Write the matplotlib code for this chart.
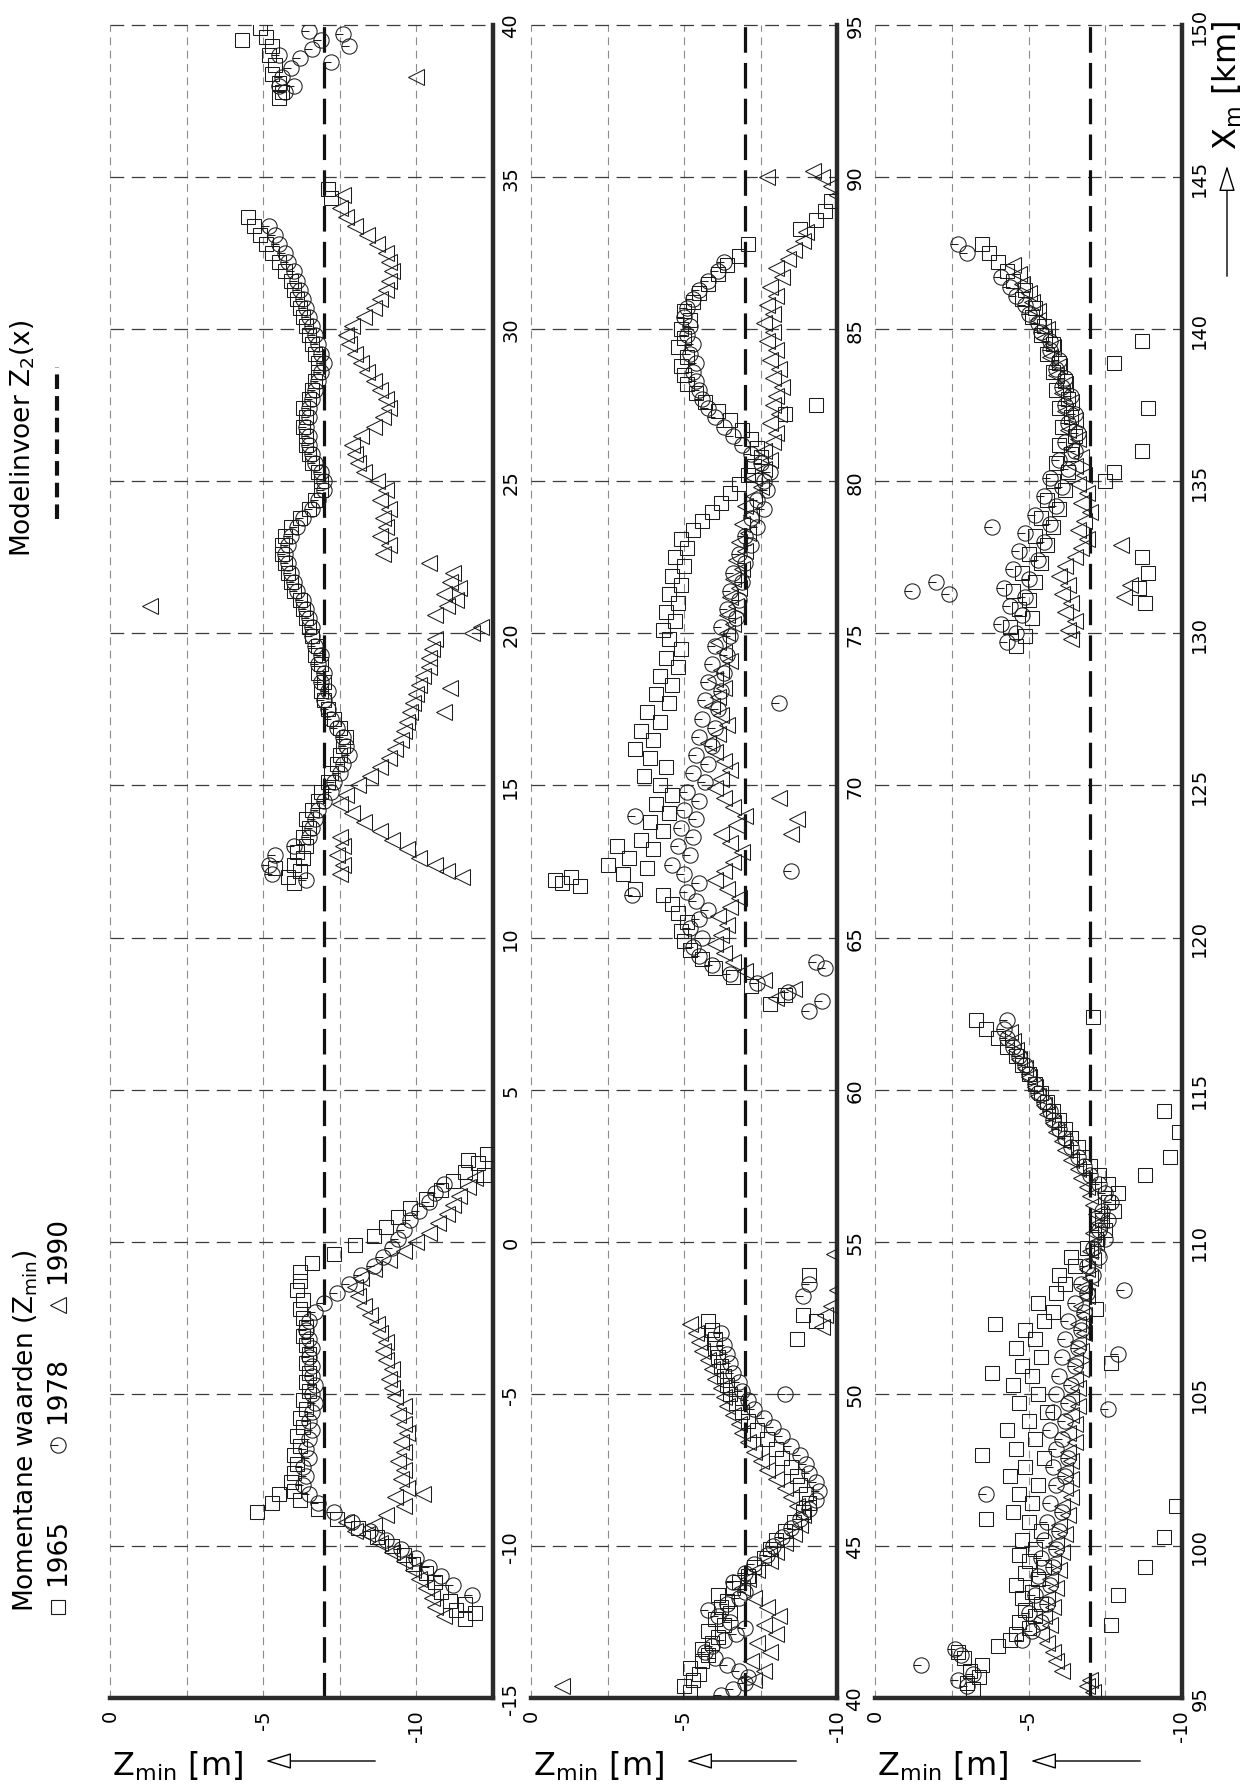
import matplotlib
matplotlib.use("Agg")
import matplotlib.pyplot as plt
from matplotlib.path import Path
from matplotlib.lines import Line2D
from matplotlib.patches import FancyArrowPatch

plt.rcParams["font.family"] = ["DejaVu Sans"]
plt.rcParams["axes.unicode_minus"] = False
plt.rcParams["mathtext.default"] = "regular"

# ---- data: (km, Zmin) pairs ----
p1_1965 = [(-12.4,-11.6),(-12.1,-11.3),(-11.8,-11.1),(-11.5,-10.8),(-11.2,-10.6),(-10.9,-10.3),(-10.6,-9.9),(-10.3,-9.6),(-10.0,-9.2),(-9.7,-8.7),(-9.4,-8.1),(-9.1,-7.4),(-8.8,-6.8),(-8.5,-6.2),(-8.2,-6.0),(-7.9,-5.9),(-7.6,-6.0),(-7.3,-6.1),(-7.0,-6.0),(-6.7,-6.2),(-6.4,-6.1),(-6.1,-6.3),(-5.8,-6.2),(-5.5,-6.4),(-5.2,-6.3),(-4.9,-6.5),(-4.6,-6.4),(-4.3,-6.5),(-4.0,-6.4),(-3.7,-6.5),(-3.4,-6.4),(-3.1,-6.3),(-2.8,-6.4),(-2.5,-6.3),(-2.2,-6.2),(-1.9,-6.3),(-1.6,-6.1),(-1.3,-6.2),(-1.0,-6.2),(-0.7,-6.6),(-0.4,-7.3),(-0.1,-8.0),(0.2,-8.6),(0.5,-9.0),(0.8,-9.4),(1.1,-9.8),(1.4,-10.3),(1.7,-10.8),(2.0,-11.2),(2.3,-11.6),(2.6,-12.0),(2.9,-12.3),
           (-8.9,-4.8),(-8.6,-5.3),(-8.3,-5.5),(2.7,-11.7),(2.2,-12.2),(-12.2,-11.9),(-11.9,-11.6),
           (11.8,-6.0),(12.0,-5.8),(12.2,-6.2),(12.3,-5.4),(12.4,-6.0),(12.6,-6.3),(12.8,-6.1),(13.0,-6.4),(13.3,-6.3),(13.6,-6.5),(13.9,-6.4),(14.2,-6.6),(14.5,-6.8),(14.8,-6.9),(15.1,-7.1),(15.4,-7.2),(15.7,-7.4),(16.0,-7.5),(16.3,-7.6),(16.6,-7.7),(16.9,-7.5),(17.2,-7.3),(17.5,-7.1),(17.8,-7.0),(18.1,-6.9),(18.4,-7.0),(18.7,-6.8),(19.0,-6.9),(19.3,-6.7),(19.6,-6.8),(19.9,-6.6),(20.2,-6.5),(20.5,-6.4),(20.8,-6.3),(21.1,-6.2),(21.4,-6.0),(21.7,-5.9),(22.0,-5.8),(22.3,-5.7),(22.6,-5.6),(22.9,-5.6),(23.2,-5.7),(23.5,-5.9),(23.8,-6.2),(24.1,-6.5),(24.4,-6.7),(24.7,-6.9),(25.0,-6.9),(25.3,-6.8),(25.6,-6.6),(25.9,-6.5),(26.2,-6.4),(26.5,-6.4),(26.8,-6.3),(27.1,-6.4),(27.4,-6.3),(27.7,-6.5),(28.0,-6.6),(28.3,-6.7),(28.6,-6.8),(28.9,-6.8),(29.2,-6.7),(29.5,-6.6),(29.8,-6.5),(30.1,-6.4),(30.4,-6.3),(30.7,-6.2),(31.0,-6.1),(31.3,-6.0),(31.6,-5.9),(31.9,-5.7),(32.2,-5.5),(32.5,-5.3),(32.8,-5.1),(33.1,-4.9),(33.4,-4.7),(33.7,-4.5),
           (34.3,-7.2),(34.6,-7.1),
           (37.6,-5.5),(37.8,-5.6),(38.1,-5.5),(38.4,-5.3),(38.7,-5.4),(39.0,-5.2),(39.3,-5.3),(39.5,-4.3),(39.6,-5.1),(39.9,-4.9)]

p1_1978 = [(-11.6,-11.8),(-11.3,-11.2),(-11.0,-10.8),(-10.7,-10.4),(-10.4,-10.0),(-10.1,-9.5),(-9.8,-9.0),(-9.5,-8.5),(-9.2,-7.9),(-8.9,-7.3),(-8.6,-6.8),(-8.3,-6.5),(-8.0,-6.3),(-7.7,-6.4),(-7.4,-6.3),(-7.1,-6.5),(-6.8,-6.4),(-6.5,-6.5),(-6.2,-6.6),(-5.9,-6.5),(-5.6,-6.6),(-5.3,-6.7),(-5.0,-6.6),(-4.7,-6.7),(-4.4,-6.6),(-4.1,-6.6),(-3.8,-6.5),(-3.5,-6.6),(-3.2,-6.5),(-2.9,-6.4),(-2.6,-6.5),(-2.3,-6.7),(-2.0,-7.0),(-1.7,-7.4),(-1.4,-7.8),(-1.1,-8.2),(-0.8,-8.6),(-0.5,-8.9),(-0.2,-9.2),(0.1,-9.4),(0.4,-9.6),(0.7,-9.8),(1.0,-10.1),(1.3,-10.4),(1.6,-10.6),(1.9,-10.9),
           (11.9,-6.4),(12.1,-5.3),(12.4,-5.2),(12.7,-5.4),(13.0,-6.0),(13.3,-6.5),(13.6,-6.6),(13.9,-6.7),(14.2,-6.8),(14.5,-7.0),(14.8,-7.2),(15.1,-7.3),(15.4,-7.5),(15.7,-7.6),(16.0,-7.8),(16.3,-7.7),(16.6,-7.6),(16.9,-7.4),(17.2,-7.2),(17.5,-7.1),(17.8,-7.0),(18.1,-7.1),(18.4,-6.9),(18.7,-7.0),(19.0,-6.8),(19.3,-6.9),(19.6,-6.7),(19.9,-6.6),(20.2,-6.6),(20.5,-6.5),(20.8,-6.4),(21.1,-6.3),(21.4,-6.1),(21.7,-6.0),(22.0,-5.9),(22.3,-5.8),(22.6,-5.7),(22.9,-5.8),(23.2,-5.9),(23.5,-6.1),(23.8,-6.3),(24.1,-6.6),(24.4,-6.8),(24.7,-7.0),(25.0,-7.0),(25.3,-6.9),(25.6,-6.7),(25.9,-6.6),(26.2,-6.5),(26.5,-6.5),(26.8,-6.4),(27.1,-6.5),(27.4,-6.5),(27.7,-6.6),(28.0,-6.7),(28.3,-6.8),(28.6,-6.9),(28.9,-7.0),(29.2,-6.9),(29.5,-6.8),(29.8,-6.7),(30.1,-6.6),(30.4,-6.5),(30.7,-6.4),(31.0,-6.3),(31.3,-6.2),(31.6,-6.1),(31.9,-6.0),(32.2,-5.8),(32.5,-5.7),(32.8,-5.5),(33.1,-5.4),(33.4,-5.2),
           (37.8,-5.7),(38.0,-5.5),(38.0,-6.0),(38.3,-5.6),(38.6,-5.9),(38.8,-7.2),(38.9,-6.2),(39.2,-6.6),(39.3,-7.8),(39.5,-6.9),(39.7,-7.6),(39.8,-6.5),(39.0,-5.5)]

p1_1990 = [(-12.3,-10.9),(-12.0,-10.6),(-11.7,-10.5),(-11.4,-10.3),(-11.1,-10.1),(-10.8,-9.9),(-10.5,-9.6),(-10.2,-9.2),(-9.9,-8.8),(-9.6,-8.4),(-9.3,-8.6),(-9.0,-9.0),(-8.7,-9.6),(-8.4,-9.3),(-8.1,-9.7),(-7.8,-9.5),(-7.5,-9.6),(-7.2,-9.4),(-6.9,-9.6),(-6.6,-9.5),(-6.3,-9.7),(-6.0,-9.6),(-5.7,-9.4),(-5.4,-9.6),(-5.1,-9.3),(-4.8,-9.2),(-4.5,-9.1),(-4.2,-9.2),(-3.9,-9.0),(-3.6,-8.9),(-3.3,-9.0),(-3.0,-8.8),(-2.7,-8.7),(-2.4,-8.5),(-2.1,-8.3),(-1.8,-8.1),(-1.5,-8.0),(-1.2,-8.2),(-0.9,-8.6),(-0.6,-9.1),(-0.3,-9.6),(0.0,-10.0),(0.3,-10.4),(0.6,-10.7),(0.9,-11.0),(1.2,-11.2),(1.5,-11.4),(1.8,-11.7),(2.1,-11.9),
           (-9.2,-7.7),(-9.5,-8.0),(-8.3,-10.2),
           (12.0,-11.5),(12.2,-11.0),(12.4,-10.6),(12.6,-10.1),(12.9,-9.7),(13.2,-9.2),(13.5,-8.8),(13.8,-8.3),(14.1,-7.9),(14.4,-7.5),
           (12.1,-7.5),(12.4,-7.6),(12.7,-7.4),(13.0,-7.6),(13.3,-7.5),
           (14.7,-7.7),(15.0,-8.1),(15.3,-8.5),(15.6,-8.8),(15.9,-9.1),(16.2,-9.3),(16.5,-9.5),(16.8,-9.6),(17.1,-9.7),(17.4,-9.8),(17.7,-9.9),(18.0,-10.0),(18.3,-10.1),(18.6,-10.2),(18.9,-10.4),(19.2,-10.4),(19.5,-10.5),(19.8,-10.6),
           (17.4,-10.9),(18.2,-11.1),(20.0,-11.8),(20.2,-12.1),(20.6,-10.6),(20.9,-11.0),(21.1,-11.3),(21.3,-10.9),(21.5,-11.4),(21.7,-11.1),(22.0,-11.2),(22.3,-10.4),(20.9,-1.3),
           (22.6,-8.9),(22.9,-9.1),(23.2,-8.8),(23.5,-9.0),(23.8,-8.9),(24.1,-9.1),(24.4,-8.8),(24.7,-9.0),(25.0,-8.7),
           (25.3,-8.3),(25.6,-8.1),(25.9,-8.0),(26.2,-7.9),(26.5,-8.2),(26.8,-8.6),(27.1,-8.9),(27.4,-9.1),(27.7,-9.0),(28.0,-8.8),(28.3,-8.6),(28.6,-8.4),(28.9,-8.2),(29.2,-8.0),(29.5,-7.8),(29.8,-7.7),(30.1,-7.9),(30.4,-8.3),(30.7,-8.6),(31.0,-8.8),(31.3,-9.0),(31.6,-9.1),(31.9,-9.2),(32.2,-9.1),(32.5,-9.0),(32.8,-8.7),(33.1,-8.4),(33.4,-8.0),(33.7,-7.7),(34.0,-7.5),(34.4,-7.6),
           (38.3,-10.0)]

p2_1965 = [(40.2,-5.2),(40.4,-5.0),(40.6,-5.3),(40.8,-5.5),(41.0,-5.2),(41.2,-5.6),(41.4,-5.8),(41.6,-5.6),(41.8,-5.9),(42.0,-6.1),(42.2,-5.8),(42.4,-6.3),(42.6,-6.0),(42.8,-6.5),(43.0,-6.2),(43.2,-6.4),(43.4,-6.1),(43.6,-6.6),(43.8,-6.8),(44.0,-7.1),(44.3,-7.3),(44.6,-7.6),(44.9,-7.8),(45.2,-8.0),(45.5,-8.3),(45.8,-8.6),(46.1,-8.9),(46.4,-9.1),(46.7,-9.0),(47.0,-8.8),(47.3,-8.7),(47.6,-8.5),(47.9,-8.2),(48.2,-8.0),(48.5,-7.7),(48.8,-7.4),(49.1,-7.1),(49.4,-6.9),(49.7,-6.7),(50.0,-6.5),(50.3,-6.4),(50.6,-6.3),(50.9,-6.2),(51.2,-6.1),(51.5,-6.0),(51.8,-6.0),(52.1,-5.9),(52.4,-5.8),
           (51.8,-8.7),(52.4,-9.3),(52.6,-8.9),(53.9,-9.1),
           (62.8,-7.8),(63.1,-8.3),(63.4,-7.2),(63.7,-6.6),(64.0,-6.0),(64.3,-5.6),(64.6,-5.2),(64.9,-5.0),(65.2,-4.9),(65.5,-5.1),(65.8,-4.8),(66.1,-4.6),(66.4,-4.3),(66.6,-3.4),(66.8,-1.0),(66.9,-0.8),(67.0,-1.3),(67.1,-3.0),(67.3,-3.8),(67.6,-3.2),(67.9,-4.0),(68.2,-3.6),(68.5,-4.3),(68.8,-3.9),(69.1,-4.5),(69.4,-4.1),(69.7,-4.6),(70.0,-4.2),(70.3,-3.7),(70.6,-4.4),(70.9,-3.9),(71.2,-3.4),(71.5,-4.0),(71.8,-3.6),(72.1,-4.2),(72.4,-3.8),(72.7,-4.5),(73.0,-4.1),(73.3,-4.6),(73.6,-4.2),(73.9,-4.8),(74.2,-4.4),(74.5,-4.9),(74.8,-4.5),(75.1,-4.3),(75.4,-4.7),(75.7,-4.4),(76.0,-4.8),(76.3,-4.5),(76.6,-4.9),(76.9,-4.6),(77.2,-5.0),(77.5,-4.7),(77.8,-5.1),(78.1,-4.9),(78.4,-5.3),(78.7,-5.6),(79.0,-5.9),(79.3,-6.2),(79.6,-6.5),(79.9,-6.8),(80.2,-7.1),(80.5,-7.3),(80.8,-7.5),(81.1,-7.4),(81.4,-7.2),(81.7,-6.9),(82.0,-6.5),(82.3,-6.1),(82.6,-5.7),(82.9,-5.4),(83.2,-5.1),(83.5,-5.0),(83.8,-4.9),(84.1,-5.1),(84.4,-4.8),(84.7,-5.0),(85.0,-4.9),(85.3,-5.2),(85.6,-5.0),(85.9,-5.3),(86.2,-5.5),(86.5,-5.8),(86.8,-6.1),(87.1,-6.4),(87.4,-6.8),
           (82.2,-8.3),(82.5,-9.3),(88.3,-8.8),(88.6,-9.3),(88.9,-9.6),(89.2,-9.8),(87.8,-7.1),(66.7,-1.6),(67.4,-2.5),(68.0,-2.8)]

p2_1978 = [(40.1,-6.2),(40.3,-6.6),(40.5,-7.0),(40.7,-7.1),(40.9,-6.8),(41.1,-6.4),(41.3,-6.0),(41.5,-5.7),(41.7,-5.9),(41.9,-6.3),(42.1,-6.7),(42.3,-7.0),(42.5,-6.5),(42.7,-6.1),(42.9,-5.8),(43.1,-6.4),(43.3,-6.8),(43.5,-7.0),(43.8,-6.6),(44.1,-7.0),(44.4,-7.3),(44.7,-7.7),(45.0,-7.9),(45.3,-8.2),(45.6,-8.5),(45.9,-8.8),(46.2,-9.1),(46.5,-9.3),(46.8,-9.4),(47.1,-9.3),(47.4,-9.1),(47.7,-9.0),(48.0,-8.8),(48.3,-8.5),(48.6,-8.2),(48.9,-7.9),(49.2,-7.6),(49.5,-7.3),(49.8,-7.1),(50.1,-6.9),(50.4,-6.8),(50.7,-6.6),(51.0,-6.5),(51.3,-6.4),(51.6,-6.3),(52.0,-6.2),
           (50.0,-8.3),(53.2,-8.9),(53.6,-9.1),
           (62.6,-9.1),(62.9,-9.5),(63.2,-8.4),(63.5,-7.4),(63.8,-6.5),(64.1,-5.9),(64.4,-5.5),(64.7,-5.3),(65.0,-5.6),(65.3,-5.2),(65.6,-5.5),(65.9,-5.8),(66.2,-5.4),(66.5,-5.1),(66.8,-5.5),(67.1,-5.0),(67.4,-4.6),(67.7,-5.2),(68.0,-4.8),(68.3,-5.3),(68.6,-4.9),(68.9,-5.4),(69.2,-5.0),(69.5,-5.5),(69.8,-5.1),(70.1,-5.7),(70.4,-5.3),(70.7,-5.8),(71.0,-5.4),(71.3,-5.9),(71.6,-5.5),(71.9,-6.0),(72.2,-5.6),(72.5,-6.1),(72.8,-5.7),(73.1,-6.2),(73.4,-5.8),(73.7,-6.3),(74.0,-5.9),(74.3,-6.4),(74.6,-6.0),(74.9,-6.5),(75.2,-6.2),(75.5,-6.7),(75.8,-6.4),(76.1,-6.8),(76.4,-6.5),(76.7,-6.9),(77.0,-6.6),(77.3,-7.0),(77.6,-6.8),(77.9,-7.2),(78.2,-7.0),(78.5,-7.4),(78.8,-7.2),(79.1,-7.6),(79.4,-7.4),(79.7,-7.7),(80.0,-7.6),(80.3,-7.8),(80.6,-7.5),(80.9,-7.2),(81.2,-6.9),(81.5,-6.6),(81.8,-6.3),(82.1,-6.0),(82.4,-5.8),(82.7,-5.6),(83.0,-5.5),(83.3,-5.4),(83.6,-5.3),(83.9,-5.4),(84.2,-5.2),(84.5,-5.3),(84.8,-5.1),(85.1,-5.2),(85.4,-5.0),(85.7,-5.1),(86.0,-5.3),(86.3,-5.5),(86.6,-5.8),(86.9,-6.1),(87.2,-6.3),
           (64.2,-9.3),(64.0,-9.6),(67.2,-8.5),(72.7,-8.1),(66.4,-3.3),(69.0,-3.4)]

p2_1990 = [(40.4,-1.0),(40.6,-7.3),(40.9,-7.6),(41.2,-7.2),(41.5,-7.8),(41.8,-7.4),(42.1,-8.0),(42.4,-7.6),(42.7,-8.1),(43.0,-7.7),(43.3,-7.3),(43.6,-6.9),(43.9,-7.1),(44.2,-7.4),(44.5,-7.8),(44.8,-8.0),(45.1,-8.3),(45.4,-8.6),(45.7,-8.8),(46.0,-8.9),(46.3,-8.7),(46.6,-8.5),(46.9,-8.3),(47.2,-8.0),(47.5,-7.7),(47.8,-7.5),(48.1,-7.3),(48.4,-7.1),(48.7,-6.9),(49.0,-6.8),(49.3,-6.6),(49.6,-6.4),(49.9,-6.3),(50.2,-6.2),(50.5,-6.0),(50.8,-5.9),(51.1,-5.8),(51.4,-5.6),(51.7,-5.5),(52.0,-5.4),(52.3,-5.2),
           (52.2,-9.5),(52.6,-9.6),(52.9,-9.8),(53.4,-10.0),(54.6,-9.9),
           (63.0,-8.0),(63.3,-8.6),(63.6,-7.6),(63.9,-7.0),(64.2,-6.6),(64.5,-6.3),(64.8,-6.0),(65.1,-6.2),(65.4,-6.4),(65.7,-6.1),(66.0,-6.5),(66.3,-6.8),(66.6,-6.4),(66.9,-6.0),(67.2,-6.3),(67.5,-6.6),(67.8,-6.9),(68.1,-6.5),(68.4,-6.2),(68.7,-6.7),(69.0,-7.0),(69.3,-6.6),(69.6,-6.3),(69.9,-6.0),(70.2,-6.2),(70.5,-6.5),(70.8,-6.3),(71.1,-6.0),(71.4,-5.8),(71.7,-6.1),(72.0,-6.4),(72.3,-6.2),(72.6,-5.9),(72.9,-6.1),(73.2,-6.3),(73.5,-6.0),(73.8,-6.2),(74.1,-6.5),(74.4,-6.3),(74.7,-6.1),(75.0,-6.4),(75.3,-6.6),(75.6,-6.4),(75.9,-6.7),(76.2,-6.5),(76.5,-6.8),(76.8,-6.6),(77.1,-6.9),(77.4,-6.7),(77.7,-7.0),(78.0,-6.8),(78.3,-7.1),(78.6,-6.9),(78.9,-7.2),(79.2,-7.0),(79.5,-7.3),(79.8,-7.5),(80.1,-7.3),(80.4,-7.6),(80.7,-7.8),(81.0,-7.6),(81.3,-7.9),(81.6,-8.0),(81.9,-7.8),(82.2,-8.1),(82.5,-7.9),(82.8,-8.0),(83.1,-8.2),(83.4,-7.9),(83.7,-8.1),(84.0,-7.8),(84.3,-8.0),(84.6,-7.7),(84.9,-7.9),(85.2,-7.6),(85.5,-7.9),(85.8,-7.7),(86.1,-8.0),(86.4,-7.8),(86.7,-8.2),(87.0,-8.0),(87.3,-8.4),(87.6,-8.6),(87.9,-8.9),(88.2,-9.0),
           (68.4,-8.5),(68.9,-8.7),(69.6,-8.1),(89.4,-10.0),(89.7,-9.8),(90.0,-9.5),(90.2,-9.2),(90.0,-7.7)]

p3_1965 = [(95.3,-3.2),(95.5,-3.0),(95.7,-3.4),(95.9,-3.1),(96.1,-3.5),(96.3,-2.9),(96.5,-2.7),(96.7,-4.0),(96.9,-4.4),(97.1,-4.6),(97.3,-5.0),(97.5,-4.7),(97.7,-5.2),(97.9,-4.9),(98.1,-5.4),(98.3,-4.8),(98.5,-5.1),(98.7,-4.6),(98.9,-5.3),(99.1,-4.9),(99.3,-5.5),(99.5,-5.0),(99.7,-4.7),(99.9,-5.2),(100.2,-4.8),(100.5,-5.4),(100.8,-5.0),(101.1,-4.5),(101.4,-5.1),(101.7,-4.7),(102.0,-5.3),(102.3,-4.4),(102.6,-4.9),(102.9,-5.5),(103.2,-4.6),(103.5,-5.2),(103.8,-4.3),(104.1,-5.0),(104.4,-5.6),(104.7,-4.7),(105.0,-5.3),(105.3,-4.5),(105.6,-5.1),(105.9,-4.8),(106.2,-5.4),(106.5,-4.6),(106.8,-5.2),(107.1,-4.9),(107.4,-5.5),(107.7,-5.8),(108.0,-5.3),(108.3,-5.9),(108.6,-6.2),(108.9,-6.0),(109.2,-6.5),(109.5,-6.4),(109.8,-6.9),(110.1,-7.2),(110.4,-7.5),(110.7,-7.4),(111.0,-7.8),(111.3,-7.6),(111.6,-7.9),(111.9,-7.6),(112.2,-7.3),(112.5,-7.0),(112.8,-6.8),(113.1,-6.6),(113.4,-6.4),(113.7,-6.2),(114.0,-6.0),(114.3,-5.8),(114.6,-5.6),(114.9,-5.4),(115.2,-5.2),(115.5,-5.0),(115.8,-4.8),(116.1,-4.6),(116.4,-4.3),(116.7,-4.0),(117.0,-3.6),(117.3,-3.3),
           (97.4,-7.7),(98.4,-7.9),(99.3,-8.8),(100.3,-9.4),(101.3,-9.8),(106.0,-7.7),(107.8,-7.2),(112.2,-8.8),(112.8,-9.6),(113.6,-9.9),(114.3,-9.4),(117.4,-7.1),
           (100.9,-3.6),(103.0,-3.5),(105.7,-3.8),(107.3,-3.9),
           (129.6,-4.6),(129.9,-4.9),(130.2,-4.4),(130.5,-5.1),(130.8,-4.7),(131.1,-5.0),(131.4,-4.5),(131.7,-5.2),(132.0,-4.8),(132.3,-5.4),(132.6,-5.0),(132.9,-5.6),(133.2,-5.2),(133.5,-5.8),(133.8,-5.4),(134.1,-6.0),(134.4,-5.6),(134.7,-6.2),(135.0,-5.8),(135.3,-6.3),(135.6,-5.9),(135.9,-6.4),(136.2,-6.0),(136.5,-6.5),(136.8,-6.1),(137.1,-6.4),(137.4,-6.0),(137.7,-6.3),(138.0,-5.9),(138.3,-6.2),(138.6,-5.8),(138.9,-6.0),(139.2,-5.6),(139.5,-5.8),(139.8,-5.4),(140.1,-5.5),(140.4,-5.1),(140.7,-5.2),(141.0,-4.8),(141.3,-4.9),(141.6,-4.5),(141.9,-4.3),(142.2,-4.0),(142.5,-3.7),(142.8,-3.5),
           (131.0,-8.8),(131.5,-8.6),(132.0,-8.9),(132.5,-8.7),(135.0,-7.5),(135.3,-7.8),(136.0,-8.7),(137.4,-8.9),(138.9,-7.8),(139.6,-8.7)]

p3_1978 = [(95.4,-3.0),(95.6,-2.7),(95.8,-3.2),(96.1,-1.5),(96.4,-2.8),(96.6,-2.6),(96.9,-4.8),(97.2,-5.1),(97.5,-5.4),(97.8,-5.0),(98.1,-5.6),(98.4,-5.2),(98.7,-5.7),(99.0,-5.3),(99.3,-5.8),(99.6,-5.4),(99.9,-5.9),(100.2,-5.5),(100.5,-6.0),(100.8,-5.6),(101.1,-6.1),(101.4,-5.7),(101.7,-3.6),(102.0,-5.9),(102.3,-6.2),(102.6,-5.8),(102.9,-6.3),(103.2,-5.9),(103.5,-6.1),(103.8,-5.7),(104.1,-6.2),(104.4,-5.8),(104.7,-6.3),(105.0,-5.9),(105.3,-6.4),(105.6,-6.0),(105.9,-6.5),(106.2,-6.1),(106.5,-6.6),(106.8,-6.2),(107.1,-6.7),(107.4,-6.3),(107.7,-6.8),(108.0,-6.5),(108.3,-6.9),(108.6,-6.7),(108.9,-7.1),(109.2,-6.9),(109.5,-7.3),(109.8,-7.1),(110.1,-7.5),(110.4,-7.3),(110.7,-7.6),(111.0,-7.4),(111.3,-7.7),(111.6,-7.5),(111.9,-7.3),(112.2,-7.0),(112.5,-6.8),(112.8,-6.6),(113.1,-6.4),(113.4,-6.2),(113.7,-6.0),(114.0,-5.8),(114.3,-5.7),(114.6,-5.5),(114.9,-5.3),(115.2,-5.2),(115.5,-5.0),(115.8,-4.9),(116.1,-4.7),(116.4,-4.5),(116.7,-4.3),(117.0,-4.2),(117.3,-4.3),
           (104.5,-7.6),(106.3,-7.9),(108.4,-8.1),
           (129.7,-4.3),(130.0,-4.6),(130.3,-4.1),(130.6,-4.8),(130.9,-4.4),(131.2,-4.9),(131.5,-4.2),(131.8,-5.0),(132.1,-4.5),(132.4,-5.3),(132.7,-4.7),(133.0,-5.5),(133.3,-4.9),(133.6,-5.7),(133.9,-5.2),(134.2,-5.9),(134.5,-5.5),(134.8,-6.1),(135.1,-5.7),(135.4,-6.3),(135.7,-6.0),(136.0,-6.5),(136.3,-6.2),(136.6,-6.6),(136.9,-6.3),(137.2,-6.5),(137.5,-6.2),(137.8,-6.4),(138.1,-6.1),(138.4,-6.2),(138.7,-5.9),(139.0,-6.0),(139.3,-5.7),(139.6,-5.7),(139.9,-5.4),(140.2,-5.3),(140.5,-5.0),(140.8,-4.9),(141.1,-4.6),(141.4,-4.4),(141.7,-4.1),
           (131.4,-1.2),(131.7,-2.0),(131.3,-2.4),(142.8,-2.7),(142.5,-3.0),(133.5,-3.8)]

p3_1990 = [(95.2,-7.1),(95.4,-6.9),(95.6,-7.0),(95.9,-6.1),(96.2,-5.9),(96.5,-5.8),(96.8,-5.6),(97.1,-5.4),(97.4,-5.7),(97.7,-5.5),(98.0,-5.8),(98.3,-5.6),(98.6,-5.9),(98.9,-5.7),(99.2,-6.0),(99.5,-5.8),(99.8,-6.1),(100.1,-5.9),(100.4,-6.2),(100.7,-6.0),(101.0,-6.3),(101.3,-6.1),(101.6,-6.4),(101.9,-6.2),(102.2,-6.4),(102.5,-6.2),(102.8,-6.4),(103.1,-6.3),(103.4,-6.5),(103.7,-6.3),(104.0,-6.5),(104.3,-6.4),(104.6,-6.6),(104.9,-6.4),(105.2,-6.6),(105.5,-6.5),(105.8,-6.7),(106.1,-6.5),(106.4,-6.7),(106.7,-6.6),(107.0,-6.8),(107.3,-6.6),(107.6,-6.8),(107.9,-6.7),(108.2,-6.9),(108.5,-6.8),(108.8,-7.0),(109.1,-6.9),(109.4,-7.1),(109.7,-7.0),(110.0,-7.2),(110.3,-7.1),(110.6,-7.3),(110.9,-7.2),(111.2,-7.1),(111.5,-7.0),(111.8,-6.9),(112.1,-6.7),(112.4,-6.6),(112.7,-6.4),(113.0,-6.2),(113.3,-6.1),(113.6,-5.9),(113.9,-5.8),(114.2,-5.6),(114.5,-5.5),(114.8,-5.3),(115.1,-5.2),(115.4,-5.0),(115.7,-4.9),(116.0,-4.7),(116.3,-4.6),(116.6,-4.5),(116.9,-4.4),
           (129.8,-6.4),(130.1,-6.3),(130.4,-6.5),(130.7,-6.2),(131.0,-6.4),(131.3,-6.1),(131.6,-6.3),(131.9,-6.0),(132.2,-6.2),(132.5,-6.5),(132.8,-6.7),(133.1,-6.9),(133.4,-6.6),(133.7,-6.8),(134.0,-7.0),(134.3,-6.7),(134.6,-6.9),(134.9,-6.6),(135.2,-6.8),(135.5,-6.5),(135.8,-6.7),(136.1,-6.4),(136.4,-6.6),(136.7,-6.3),(137.0,-6.5),(137.3,-6.2),(137.6,-6.4),(137.9,-6.1),(138.2,-6.2),(138.5,-5.9),(138.8,-6.0),(139.1,-5.7),(139.4,-5.8),(139.7,-5.5),(140.0,-5.6),(140.3,-5.3),(140.6,-5.3),(140.9,-5.1),(141.2,-5.0),(141.5,-4.8),(141.8,-4.7),(142.1,-4.5),
           (131.2,-8.1),(131.6,-8.3),(132.9,-8.0)]

model_z = -7.0          # Modelinvoer Z2(x)
km_ranges = [(-15, 40), (40, 95), (95, 150)]
z_ranges = [-12.5, -10.0, -10.0]
z_ticks = [0, -5, -10]

# ---- layout (pixels) ----
W, H = 1252, 1790
fig = plt.figure(figsize=(W / 100, H / 100), dpi=100)
fig.patch.set_facecolor("white")


def fx(px):
    return px / W


def fy(py):
    return 1 - py / H


panel_x = [(110, 493), (531, 837), (875, 1182)]
top_px, bot_px = 26, 1699

# 1978 marker: circle with a stroke from the centre
circ = Path.unit_circle()
circ_t = Path(list(circ.vertices) + [(-1, 0), (0, 0)],
              list(circ.codes) + [Path.MOVETO, Path.LINETO])

ink = "#1c1c1c"
styles = [dict(marker="s", ms=10), dict(marker=circ_t, ms=11), dict(marker="<", ms=11)]
series = [(p1_1965, p1_1978, p1_1990), (p2_1965, p2_1978, p2_1990), (p3_1965, p3_1978, p3_1990)]

for i in range(3):
    x0, x1 = panel_x[i]
    ax = fig.add_axes([fx(x0), fy(bot_px), (x1 - x0) / W, (bot_px - top_px) / H])
    km0, km1 = km_ranges[i]
    zlim = z_ranges[i]
    ax.set_xlim(0, zlim)
    ax.set_ylim(km0, km1)

    z = 0.0
    while z >= zlim - 0.01:
        ax.axvline(z, color="#8c8c8c", lw=0.8, ls=(0, (7, 5)), zorder=0, clip_on=False)
        z -= 2.5
    km_ticks = list(range(km0, km1 + 1, 5))
    for k in km_ticks:
        ax.axhline(k, color="#3c3c3c", lw=0.9, ls=(0, (11, 6)), zorder=0, clip_on=False)

    ax.axvline(model_z, color="#111111", lw=2.3, ls=(0, (8, 3.2)), zorder=1)

    for data, st in zip(series[i], styles):
        kms = [p[0] for p in data]
        zs = [p[1] for p in data]
        ax.plot(zs, kms, ls="none", mfc="none", mec=ink, mew=0.75, zorder=3, **st)

    for side in ("top", "left"):
        ax.spines[side].set_visible(False)
    for side in ("bottom", "right"):
        ax.spines[side].set_linewidth(3.2)
        ax.spines[side].set_color("#2a2a2a")

    ax.set_xticks(z_ticks)
    ax.set_xticklabels([str(t) for t in z_ticks])
    ax.set_yticks(km_ticks)
    ax.set_yticklabels([str(k) for k in km_ticks])
    ax.yaxis.tick_right()
    ax.tick_params(length=0, labelsize=14)
    ax.tick_params(axis="x", pad=8)
    ax.tick_params(axis="y", pad=6)
    plt.setp(ax.get_xticklabels(), rotation=90, ha="center", va="top")
    plt.setp(ax.get_yticklabels(), rotation=90, ha="left", va="center")

    # Zmin [m] <----
    fig.text(fx(x0 + 2), fy(1776), "Z$_{min}$ [m]", fontsize=23, ha="left", va="baseline")
    fig.add_artist(FancyArrowPatch((fx(x0 + 268), fy(1762)), (fx(x0 + 153), fy(1762)),
                                   transform=fig.transFigure,
                                   arrowstyle="-|>,head_length=0.8,head_width=0.25",
                                   mutation_scale=20, lw=1.0, ec="black", fc="white"))

# ---- X axis label (top right) ----
fig.text(fx(1227), fy(150), "X$_{m}$ [km]", rotation=90, fontsize=23, ha="center", va="bottom")
fig.add_artist(FancyArrowPatch((fx(1227), fy(280)), (fx(1227), fy(164)),
                               transform=fig.transFigure,
                               arrowstyle="-|>,head_length=0.8,head_width=0.25",
                               mutation_scale=20, lw=1.0, ec="black", fc="white"))

# ---- legend block (left margin, rotated) ----
fig.text(fx(26), fy(1612), "Momentane waarden (Z$_{min}$)", rotation=90, fontsize=19,
         ha="center", va="bottom")
leg_items = [("1965", 1608, 1586), ("1978", 1446, 1424), ("1990", 1306, 1284)]
for (label, mk_y, txt_y), st in zip(leg_items, styles):
    fig.add_artist(Line2D([fx(58)], [fy(mk_y)], transform=fig.transFigure, ls="none",
                          mfc="none", mec=ink, mew=0.8, **st))
    fig.text(fx(58), fy(txt_y), label, rotation=90, fontsize=19, ha="center", va="bottom")

fig.text(fx(23), fy(557), "Modelinvoer Z$_{2}$(x)", rotation=90, fontsize=19,
         ha="center", va="bottom")
fig.add_artist(Line2D([fx(57), fx(57)], [fy(520), fy(368)], transform=fig.transFigure,
                      color="#111111", lw=3, ls=(0, (3.5, 1.7))))

fig.savefig("out.png", dpi=100, facecolor="white")
